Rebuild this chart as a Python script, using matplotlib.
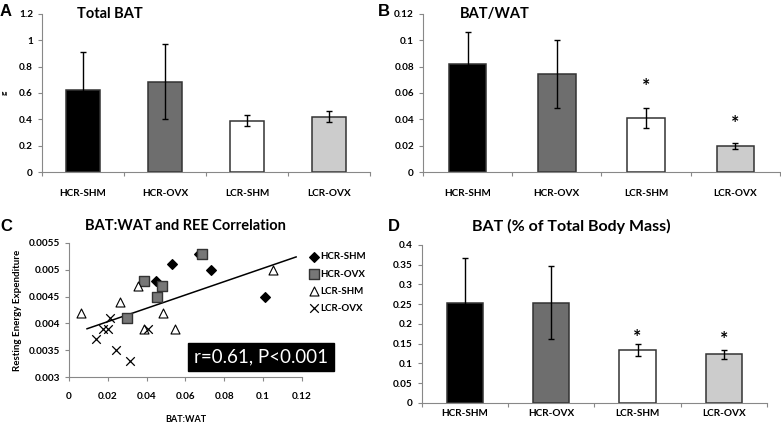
import matplotlib
matplotlib.use("Agg")
import matplotlib.pyplot as plt
import numpy as np

plt.rcParams['font.family'] = ['Lato', 'DejaVu Sans']

groups = ['HCR-SHM', 'HCR-OVX', 'LCR-SHM', 'LCR-OVX']
bar_colors = ['#000000', '#6e6e6e', '#ffffff', '#cccccc']

# panel A - total BAT (g)
total_bat = [0.62, 0.685, 0.39, 0.42]
total_bat_err = [0.29, 0.285, 0.042, 0.042]

# panel B - BAT/WAT
bat_wat = [0.082, 0.0745, 0.041, 0.020]
bat_wat_err = [0.024, 0.026, 0.0076, 0.0023]
bat_wat_star = [None, None, 0.065, 0.037]

# panel D - BAT % of body mass
bat_pct = [0.254, 0.254, 0.135, 0.123]
bat_pct_err = [0.112, 0.092, 0.015, 0.011]
bat_pct_star = [None, None, 0.165, 0.16]

# panel C - scatter BAT:WAT vs REE
hcr_shm_x = [0.053, 0.073, 0.045, 0.101, 0.067]
hcr_shm_y = [0.0051, 0.0050, 0.0048, 0.0045, 0.0053]
hcr_ovx_x = [0.0685, 0.0386, 0.048, 0.0453, 0.0298]
hcr_ovx_y = [0.0053, 0.0048, 0.0047, 0.0045, 0.0041]
lcr_shm_x = [0.0064, 0.0265, 0.0358, 0.0482, 0.0386, 0.0546, 0.105]
lcr_shm_y = [0.0042, 0.0044, 0.0047, 0.0042, 0.0039, 0.0039, 0.0050]
lcr_ovx_x = [0.0138, 0.0176, 0.020, 0.021, 0.0241, 0.0313, 0.0405]
lcr_ovx_y = [0.0037, 0.0039, 0.0039, 0.0041, 0.0035, 0.0033, 0.0039]
trend_x = [0.0093, 0.117]
trend_y = [0.0039, 0.00524]

tick_font = dict(fontsize=7.2, fontweight='bold')


def style_axis(ax):
    for s in ['top', 'right']:
        ax.spines[s].set_visible(False)
    for s in ['left', 'bottom']:
        ax.spines[s].set_color('#888888')
        ax.spines[s].set_linewidth(0.8)
    ax.tick_params(colors='#888888', labelcolor='black', width=0.8, length=3)


def bar_panel(ax, vals, errs, ymax, ystep, stars=None, pad=12):
    x = np.arange(len(groups))
    ax.bar(x, vals, width=0.42, color=bar_colors, edgecolor='#333333', linewidth=1.1, zorder=2)
    ax.errorbar(x, vals, yerr=errs, fmt='none', ecolor='black', elinewidth=1.0,
                capsize=2.5, capthick=1.0, zorder=3)
    ax.set_xlim(-0.5, len(groups) - 0.5)
    ax.set_ylim(0, ymax)
    ax.set_xticks(x)
    ax.set_xticklabels(groups, **tick_font)
    ax.set_xticks(np.arange(-0.5, len(groups)), minor=True)
    yt = np.arange(0, ymax + ystep / 2, ystep)
    ax.set_yticks(yt)
    ax.set_yticklabels([fmt_num(v) for v in yt], **tick_font)
    style_axis(ax)
    ax.tick_params(axis='x', which='minor', length=3, color='#888888', width=0.8)
    ax.tick_params(axis='x', which='major', length=0, pad=pad)
    if stars:
        for i, s in enumerate(stars):
            if s is not None:
                ax.text(i, s, '*', ha='center', va='center', fontsize=14, fontweight='bold')


def fmt_num(v):
    s = ('%.4f' % v).rstrip('0').rstrip('.')
    return s


fig = plt.figure(figsize=(7.81, 4.26), dpi=100)

axA = fig.add_axes([0.0538, 0.5962, 0.42, 0.371])
bar_panel(axA, total_bat, total_bat_err, 1.2, 0.2)
axA.text(0.107, 1.0, 'Total BAT', transform=axA.transAxes, fontsize=10.5, fontweight='bold', va='center')
axA.set_ylabel('g', fontsize=6, fontweight='bold', labelpad=8)

axB = fig.add_axes([0.5416, 0.5962, 0.457, 0.371])
bar_panel(axB, bat_wat, bat_wat_err, 0.12, 0.02, bat_wat_star)
axB.text(0.103, 1.0, 'BAT/WAT', transform=axB.transAxes, fontsize=10.5, fontweight='bold', va='center')

axD = fig.add_axes([0.5403, 0.054, 0.4417, 0.371])
bar_panel(axD, bat_pct, bat_pct_err, 0.4, 0.05, bat_pct_star, pad=4)
fig.text(0.732, 0.469, 'BAT (% of Total Body Mass)', fontsize=11.5, fontweight='bold', ha='center', va='center')

axC = fig.add_axes([0.0883, 0.115, 0.2983, 0.3146])
axC.scatter(hcr_shm_x, hcr_shm_y, marker='D', s=24, color='black', label='HCR-SHM', zorder=3)
axC.scatter(hcr_ovx_x, hcr_ovx_y, marker='s', s=50, color='#777777', edgecolor='#333333',
            linewidth=1.0, label='HCR-OVX', zorder=3)
axC.scatter(lcr_shm_x, lcr_shm_y, marker='^', s=42, color='white', edgecolor='black',
            linewidth=0.8, label='LCR-SHM', zorder=3)
axC.scatter(lcr_ovx_x, lcr_ovx_y, marker='x', s=38, color='black', linewidth=0.9,
            label='LCR-OVX', zorder=3)
axC.plot(trend_x, trend_y, color='black', linewidth=1.1, zorder=2)
axC.set_xlim(0, 0.12)
axC.set_ylim(0.003, 0.0055)
xt = np.arange(0, 0.121, 0.02)
axC.set_xticks(xt)
axC.set_xticklabels([fmt_num(v) for v in xt], **tick_font)
yt = np.arange(0.003, 0.00551, 0.0005)
axC.set_yticks(yt)
axC.set_yticklabels([fmt_num(v) for v in yt], **tick_font)
style_axis(axC)
axC.tick_params(axis='x', pad=8)
axC.set_xlabel('BAT:WAT', fontsize=6.5, fontweight='bold', labelpad=10)
axC.set_ylabel('Resting Energy Expenditure', fontsize=7, fontweight='bold', labelpad=5)
axC.text(0.5, 1.13, 'BAT:WAT and REE Correlation', transform=axC.transAxes,
         fontsize=10.5, fontweight='bold', ha='center', va='center')
axC.legend(loc='upper left', bbox_to_anchor=(1.01, 0.96), frameon=False,
           prop=dict(size=7, weight='bold'), handletextpad=0.0, labelspacing=0.85,
           borderaxespad=0, handlelength=1.2)
axC.text(0.825, 0.15, 'r=0.61, P<0.001', transform=axC.transAxes, color='white',
         fontsize=13.5, ha='center', va='center', clip_on=False,
         bbox=dict(boxstyle='square,pad=0.3', facecolor='black', edgecolor='black'))

for lab, x, y in [('A', 0.0, 0.972), ('B', 0.484, 0.972), ('C', 0.0, 0.469), ('D', 0.496, 0.469)]:
    fig.text(x, y, lab, fontsize=12, fontweight='bold', family='Liberation Sans', va='center')

fig.savefig('out.png', dpi=100)
